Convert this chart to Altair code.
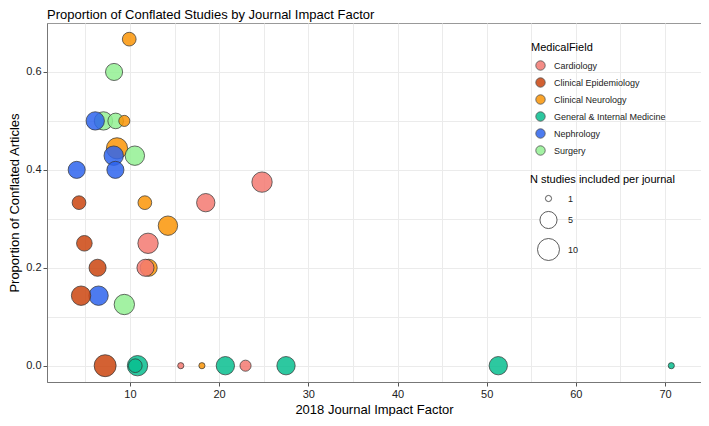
import altair as alt
import pandas as pd

# ---- data ----
fields = [
    "Clinical Neurology", "Clinical Neurology", "Clinical Neurology", "Clinical Neurology",
    "Clinical Neurology", "Clinical Neurology",
    "Surgery", "Surgery", "Surgery", "Surgery", "Surgery",
    "Clinical Neurology",
    "Nephrology", "Nephrology", "Nephrology", "Nephrology", "Nephrology",
    "Clinical Epidemiology", "Clinical Epidemiology", "Clinical Epidemiology",
    "Clinical Epidemiology", "Clinical Epidemiology",
    "Cardiology", "Cardiology", "Cardiology", "Cardiology", "Cardiology", "Cardiology",
    "General & Internal Medicine", "General & Internal Medicine", "General & Internal Medicine",
    "General & Internal Medicine", "General & Internal Medicine", "General & Internal Medicine",
]
impact = [
    9.92, 8.55, 11.67, 14.26, 12.10, 18.07,
    8.22, 7.03, 8.40, 10.55, 9.37,
    9.37,
    6.11, 8.18, 4.03, 8.37, 6.48,
    4.29, 4.89, 6.37, 4.52, 7.22,
    24.81, 18.50, 12.03, 11.74, 15.70, 22.96,
    10.85, 10.60, 20.70, 27.50, 51.30, 70.70,
]
proportion = [
    0.667, 0.444, 0.333, 0.286, 0.200, 0.0,
    0.600, 0.500, 0.500, 0.429, 0.125,
    0.500,
    0.500, 0.429, 0.400, 0.400, 0.143,
    0.333, 0.250, 0.200, 0.143, 0.0,
    0.375, 0.333, 0.250, 0.200, 0.0, 0.0,
    0.0, 0.0, 0.0, 0.0, 0.0, 0.0,
]
n_studies = [
    3, 9, 3, 7, 5, 1,
    5, 6, 4, 7, 8,
    2,
    6, 7, 5, 5, 7,
    3, 4, 5, 7, 10,
    8, 6, 8, 5, 1, 2,
    8, 3, 6, 6, 6, 1,
]

field_order = ["Cardiology", "Clinical Epidemiology", "Clinical Neurology",
               "General & Internal Medicine", "Nephrology", "Surgery"]
field_colors = ["#F37971", "#CB450F", "#FA9507", "#08BE8F", "#2E64ED", "#93F093"]

x_grid = [5, 10, 15, 20, 25, 30, 35, 40, 45, 50, 55, 60, 65, 70]
y_grid = [0.0, 0.1, 0.2, 0.3, 0.4, 0.5, 0.6]
size_legend_values = [1, 5, 10]

df = pd.DataFrame({
    "MedicalField": fields,
    "ImpactFactor": impact,
    "Proportion": proportion,
    "N": n_studies,
})

W, H = 654, 359

points = alt.Chart(df).mark_circle(
    opacity=1, fillOpacity=0.85, stroke="#333333", strokeWidth=0.8, strokeOpacity=0.9
).encode(
    x=alt.X(
        "ImpactFactor:Q",
        scale=alt.Scale(domain=[0.7, 74.03], nice=False, zero=False),
        axis=alt.Axis(
            values=x_grid,
            title="2018 Journal Impact Factor",
            labelExpr="datum.value % 10 == 0 ? datum.label : ''",
            tickColor={"condition": {"test": "datum.value % 10 != 0", "value": "transparent"},
                       "value": "#555555"},
        ),
    ),
    y=alt.Y(
        "Proportion:Q",
        scale=alt.Scale(domain=[-0.0333, 0.7], nice=False, zero=False),
        axis=alt.Axis(
            values=y_grid,
            title="Proportion of Conflated Articles",
            labelExpr="round(datum.value * 10) % 2 == 0 ? format(datum.value, '.1f') : ''",
            tickColor={"condition": {"test": "round(datum.value * 10) % 2 != 0", "value": "transparent"},
                       "value": "#555555"},
        ),
    ),
    fill=alt.Fill(
        "MedicalField:N",
        scale=alt.Scale(domain=field_order, range=field_colors),
        legend=alt.Legend(
            title="MedicalField", orient="none", legendX=W - 170, legendY=19,
            symbolSize=88, symbolStrokeColor="#333333", symbolStrokeWidth=0.8,
            symbolOpacity=0.85, rowPadding=4, labelOffset=8, titlePadding=7,
            symbolOffset=4,
        ),
    ),
    size=alt.Size(
        "N:Q",
        scale=alt.Scale(type="sqrt", domain=[1, 10], range=[38, 483], zero=False),
        legend=alt.Legend(
            title="N studies included per journal", orient="none",
            legendX=W - 171, legendY=151, values=size_legend_values,
            symbolFillColor="white", symbolStrokeColor="#333333", symbolStrokeWidth=0.8,
            rowPadding=5, labelOffset=8, titlePadding=9, symbolOffset=7,
        ),
    ),
)

chart = points.properties(
    width=W,
    height=H,
    padding={"left": 0, "top": 1, "right": 0, "bottom": 0},
    title=alt.TitleParams(
        "Proportion of Conflated Studies by Journal Impact Factor",
        anchor="start", frame="group", fontSize=13, fontWeight="normal",
        color="#000000", offset=1,
    ),
).configure(
    font="Liberation Sans",
).configure_view(
    stroke="#999999", strokeWidth=1,
).configure_axis(
    labelFontSize=11, titleFontSize=13, titleFontWeight="normal",
    labelColor="#222222", titleColor="#000000",
    gridColor="#EBEBEB", gridWidth=1,
    domainColor="#777777", tickSize=4, labelPadding=2, titlePadding=4,
).configure_legend(
    padding=0, titleFontSize=11, titleFontWeight="normal", labelFontSize=9,
    titleColor="#000000", labelColor="#222222",
)

chart.save("out.html", embed_options={"renderer": "svg", "actions": False})
